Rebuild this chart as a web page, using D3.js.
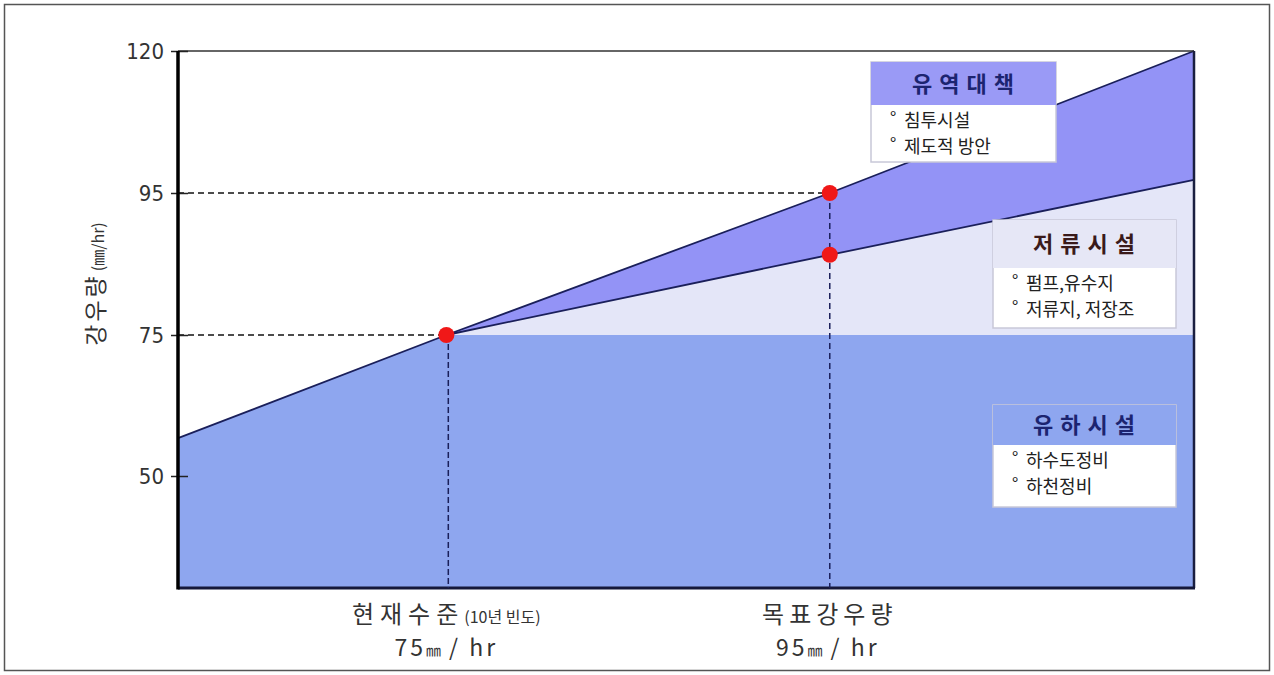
<!DOCTYPE html>
<html>
<head>
<meta charset="utf-8">
<script src="https://cdn.jsdelivr.net/npm/d3@7"></script>
<style>
  body { margin: 0; background: #fff; }
  text { font-family: "Noto Sans CJK KR", "Noto Sans", sans-serif; }
</style>
</head>
<body>
<svg id="chart" width="1274" height="675"></svg>
<script>
// rainfall intensity (mm/hr) along the x direction
var xPoints = [61, 75, 95, 114];
// upper boundary (유역대책 top)
var upperLine = [56.7, 75, 95, 120];
// lower boundary of 유역대책 band (starts at current level)
var lowerX = [75, 95, 114];
var lowerLine = [75, 86.3, 97.3];
// flat level of 유하시설
var baseLevel = 75;

var yTicks = [50, 75, 95, 120];
var dots = [[75, 75], [95, 95], [95, 86.3]];

var xLabels = [
  {x: 75.1, l1: '현재수준', sub: '(10년 빈도)', l2: '75', unit: '㎜', rest: ' / hr'},
  {x: 95, l1: '목표강우량', sub: '', l2: '95', unit: '㎜', rest: ' / hr'}
];

var legends = [
  {title: '유역대책', items: ['침투시설', '제도적 방안'], x: 871, y: 62, w: 185, hh: 43, bh: 57, head: '#9a9af6', color: '#1c2470'},
  {title: '저류시설', items: ['펌프,유수지', '저류지, 저장조'], x: 993, y: 220, w: 183, hh: 48, bh: 60, head: '#e6e7f6', color: '#3a1a1a'},
  {title: '유하시설', items: ['하수도정비', '하천정비'], x: 993, y: 405, w: 183, hh: 40, bh: 62, head: '#8ea6ef', color: '#1c2470'}
];

var svg = d3.select('#chart');

var x = d3.scaleLinear().domain([61, 114]).range([178, 1194]);
// tick positions are evenly spaced in the original, so piecewise scale
var y = d3.scaleLinear().domain([30, 50, 75, 95, 120]).range([588, 476, 335, 193, 51]);

// outer frame
svg.append('rect').attr('x', 4.5).attr('y', 4.5).attr('width', 1265).attr('height', 666)
  .attr('fill', 'none').attr('stroke', '#555').attr('stroke-width', 1.5);

var upperPts = xPoints.map(function(d, i) { return [d, upperLine[i]]; });
var lowerPts = lowerX.map(function(d, i) { return [d, lowerLine[i]]; });

var line = d3.line().x(function(d) { return x(d[0]); }).y(function(d) { return y(d[1]); });

// bottom region: under upper line up to 75, then flat
var bottomPts = [[61, 30]].concat(upperPts.filter(function(d) { return d[1] <= baseLevel; }))
  .concat([[114, baseLevel], [114, 30]]);
svg.append('path').attr('d', line(bottomPts) + 'Z').attr('fill', '#8ea6ef');

// light region between base level and lower line
var lightPts = lowerPts.concat([[114, baseLevel]]);
svg.append('path').attr('d', line(lightPts) + 'Z').attr('fill', '#e4e6f8');

// dark band between upper and lower lines
var bandPts = upperPts.filter(function(d) { return d[0] >= 75; })
  .concat(lowerPts.slice().reverse());
svg.append('path').attr('d', line(bandPts) + 'Z').attr('fill', '#9393f6');

// boundary lines
svg.append('path').attr('d', line(upperPts)).attr('fill', 'none').attr('stroke', '#1a1f5a').attr('stroke-width', 1.8);
svg.append('path').attr('d', line(lowerPts)).attr('fill', 'none').attr('stroke', '#1a1f5a').attr('stroke-width', 1.8);

// frame top and right
svg.append('line').attr('x1', x(61)).attr('x2', x(114)).attr('y1', y(120)).attr('y2', y(120))
  .attr('stroke', '#333').attr('stroke-width', 1.5);
svg.append('line').attr('x1', x(114)).attr('x2', x(114)).attr('y1', y(120)).attr('y2', y(30))
  .attr('stroke', '#1a1f40').attr('stroke-width', 2.5);
svg.append('line').attr('x1', x(61)).attr('x2', x(114) + 1).attr('y1', y(30)).attr('y2', y(30))
  .attr('stroke', '#15183a').attr('stroke-width', 3);

// dashed guides
svg.append('line').attr('x1', x(61)).attr('x2', x(95)).attr('y1', y(95)).attr('y2', y(95))
  .attr('stroke', '#111').attr('stroke-width', 1.5).attr('stroke-dasharray', '6,4');
svg.append('line').attr('x1', x(61)).attr('x2', x(75.1)).attr('y1', y(75)).attr('y2', y(75))
  .attr('stroke', '#111').attr('stroke-width', 1.5).attr('stroke-dasharray', '6,4');
svg.append('line').attr('x1', x(75.1)).attr('x2', x(75.1)).attr('y1', y(75)).attr('y2', y(30))
  .attr('stroke', '#1a1f5a').attr('stroke-width', 1.5).attr('stroke-dasharray', '6,3');
svg.append('line').attr('x1', x(95)).attr('x2', x(95)).attr('y1', y(95)).attr('y2', y(30))
  .attr('stroke', '#1a1f5a').attr('stroke-width', 1.5).attr('stroke-dasharray', '6,4');

// y axis
var yAxis = d3.axisLeft(y).tickValues(yTicks).tickSize(0).tickPadding(14);
var gy = svg.append('g').attr('transform', 'translate(' + x(61) + ',0)').call(yAxis);
gy.select('.domain').remove();
gy.selectAll('text').attr('font-size', 22).attr('fill', '#333')
  .style('font-family', '"DejaVu Sans Condensed", "Liberation Sans Narrow", sans-serif');
gy.selectAll('.tick').append('line').attr('x1', -7).attr('x2', 10).attr('stroke', '#222').attr('stroke-width', 1.5);
svg.append('line').attr('x1', x(61)).attr('x2', x(61)).attr('y1', y(120)).attr('y2', y(30) + 1.5)
  .attr('stroke', '#000').attr('stroke-width', 3.5);

// y label
var yl = svg.append('text').attr('transform', 'translate(104,284) rotate(-90)')
  .attr('text-anchor', 'middle').attr('fill', '#333');
yl.append('tspan').attr('font-size', 23).attr('letter-spacing', 3).text('강우량');
yl.append('tspan').attr('font-size', 16).attr('dx', 2).text('(㎜/hr)');

// dots
svg.selectAll('.dot').data(dots).enter().append('circle')
  .attr('cx', function(d) { return x(d[0]); })
  .attr('cy', function(d) { return y(d[1]); })
  .attr('r', 8).attr('fill', '#f01818');

// x labels
xLabels.forEach(function(d) {
  var t1 = svg.append('text').attr('x', x(d.x) + (d.sub ? -2 : 0)).attr('y', 623).attr('text-anchor', 'middle')
    .attr('fill', '#333').attr('font-size', 24);
  t1.append('tspan').attr('letter-spacing', d.sub ? 6 : 5).text(d.l1);
  if (d.sub) t1.append('tspan').attr('font-size', 16).attr('letter-spacing', 0).text(d.sub);
  var t2 = svg.append('text').attr('x', x(d.x) - 2).attr('y', 656).attr('text-anchor', 'middle')
    .attr('fill', '#333').attr('font-size', 23).attr('letter-spacing', 3);
  t2.append('tspan').text(d.l2);
  t2.append('tspan').attr('font-size', 15).attr('letter-spacing', 0).text(d.unit);
  t2.append('tspan').text(d.rest.replace(' / ', '  /  '));
});

// legend boxes
legends.forEach(function(d) {
  var g = svg.append('g');
  g.append('rect').attr('x', d.x).attr('y', d.y).attr('width', d.w).attr('height', d.hh + d.bh)
    .attr('fill', '#fff').attr('stroke', '#c8c8d8').attr('stroke-width', 1.5);
  g.append('rect').attr('x', d.x).attr('y', d.y).attr('width', d.w).attr('height', d.hh)
    .attr('fill', d.head);
  g.append('text').attr('x', d.x + d.w / 2 + 3).attr('y', d.y + d.hh / 2 + 8).attr('text-anchor', 'middle')
    .attr('font-size', 22).attr('font-weight', 'bold').attr('letter-spacing', 7).attr('fill', d.color)
    .text(d.title);
  d.items.forEach(function(it, i) {
    var ty = d.y + d.hh + 22 + i * 26;
    g.append('text').attr('x', d.x + 19).attr('y', ty - 3).attr('font-size', 17).attr('fill', '#222').text('°');
    g.append('text').attr('x', d.x + 33).attr('y', ty).attr('font-size', 18).attr('fill', '#222').text(it);
  });
});
</script>
</body>
</html>
